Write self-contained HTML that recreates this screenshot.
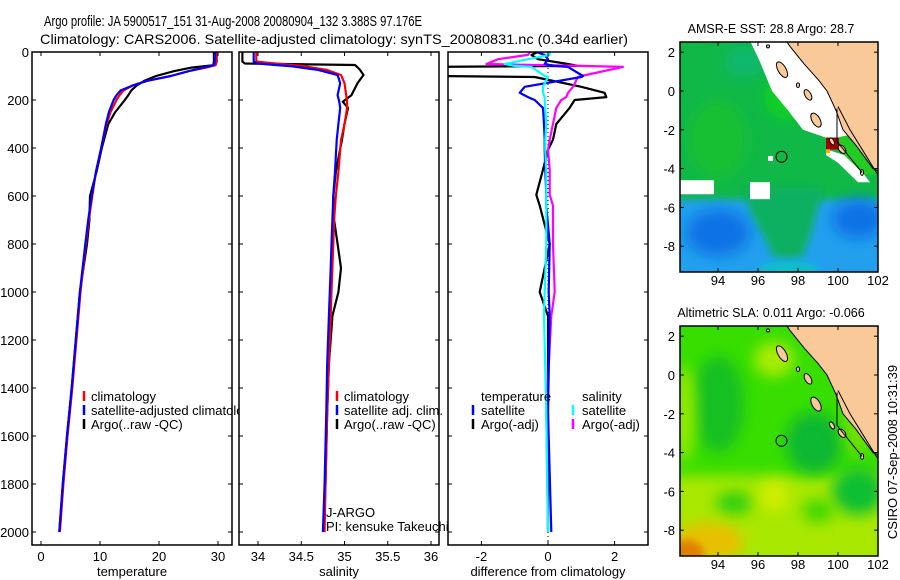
<!DOCTYPE html>
<html><head><meta charset="utf-8">
<style>
html,body{margin:0;padding:0;background:#fff;}
svg{display:block;font-family:"Liberation Sans",sans-serif;}
</style></head>
<body>
<svg id="fig" width="900" height="580" viewBox="0 0 900 580" xmlns="http://www.w3.org/2000/svg">
<defs>
  <filter id="blur6" x="-50%" y="-50%" width="200%" height="200%"><feGaussianBlur stdDeviation="7"/></filter>
  <filter id="blur4" x="-50%" y="-50%" width="200%" height="200%"><feGaussianBlur stdDeviation="4"/></filter>
  <clipPath id="cp1"><rect x="32" y="52" width="200" height="493"/></clipPath>
  <clipPath id="cp2"><rect x="239" y="52" width="200" height="493"/></clipPath>
  <clipPath id="cp3"><rect x="448" y="52" width="200" height="493"/></clipPath>
  <clipPath id="cpm1"><rect x="680" y="42" width="198" height="230"/></clipPath>
  <clipPath id="cpm2"><rect x="680" y="326" width="198" height="230"/></clipPath>
</defs>
<text x="44" y="26" font-size="15" textLength="378" lengthAdjust="spacingAndGlyphs">Argo profile: JA 5900517_151 31-Aug-2008 20080904_132 3.388S 97.176E</text>
<text x="40" y="44" font-size="14" textLength="588" lengthAdjust="spacingAndGlyphs">Climatology: CARS2006. Satellite-adjusted climatology: synTS_20080831.nc (0.34d earlier)</text>
<g id="layer"></g>
<text transform="translate(897,452) rotate(-90)" text-anchor="middle" font-size="13">CSIRO 07-Sep-2008 10:31:39</text>
</svg>
<script>
// ---------- data ----------
const tDepth = [0,40,55,65,80,100,120,140,160,180,200,250,300,400,500,600,700,800,1000,1200,1400,1600,1800,2000];
const tClim  = [29.8,29.8,29.6,28,25,22,18,15.5,14,13.3,12.8,11.8,11.1,10.2,9.3,8.7,8.1,7.6,6.7,6.0,5.3,4.5,3.8,3.2];
const tSat   = [29.5,29.5,29.3,27.5,25,22,18,15.5,13.5,12.8,12.3,11.5,11,10.2,9.3,8.6,8.0,7.5,6.6,5.9,5.2,4.4,3.7,3.1];
const tArgo  = [29.3,29.3,29.2,25.5,22.5,19.5,17.5,16.2,15.3,14.8,14.2,12.6,11.4,10.3,9.4,8.3,8.2,7.8,6.6,5.9,5.2,4.4,3.7,3.1];

const sDepth = [0,40,48,54,60,75,96,130,180,207,233,300,367,500,600,700,800,900,1000,1100,1300,1500,1800,2000];
const sClim  = [33.98,33.98,34.2,34.4,34.55,34.8,34.96,35.0,35.02,35.03,35.03,35.0,34.96,34.93,34.9,34.88,34.87,34.86,34.85,34.84,34.82,34.8,34.78,34.77];
const sSat   = [33.95,33.95,34.0,34.2,34.4,34.7,34.92,34.95,34.92,34.94,34.95,34.93,34.91,34.89,34.87,34.86,34.85,34.84,34.83,34.82,34.8,34.79,34.77,34.75];
const sArgo  = [33.82,33.82,33.85,35.12,35.14,35.18,35.22,35.15,35.08,34.98,35.04,35.0,34.97,34.9,34.87,34.88,34.92,34.96,34.93,34.86,34.82,34.8,34.78,34.76];

const dDepth = [0,12,30,50,58,62,100,104,145,170,188,200,233,300,365,408,490,595,640,800,1000,1100,1500,2000];
const dTempArgo = [-0.3,-0.5,-0.3,0.6,0.9,-3.5,-3.5,-0.4,1.0,1.7,1.75,0.8,0.65,0.25,0.15,0.0,-0.15,-0.35,-0.25,0.05,-0.25,0.0,0.0,0.0];
const dTempSat  = [-0.35,-0.1,0.0,-0.1,0.2,0.6,1.05,1.0,-0.7,-0.85,-0.6,-0.4,-0.15,-0.12,-0.1,-0.1,-0.08,-0.05,-0.05,0.05,0.02,0.05,0.0,0.1];
const dSalSat   = [0.06,0.05,-0.6,-1.3,-1.0,-0.5,-0.1,0.0,-0.15,-0.15,-0.1,-0.1,-0.08,-0.05,-0.08,-0.08,-0.05,-0.05,-0.05,-0.05,-0.1,-0.12,-0.05,0.0];
const dSalArgo  = [-0.55,-0.6,-1.5,-1.85,1.0,2.25,1.0,0.9,0.75,0.6,0.55,0.4,0.25,0.15,0.05,0.0,0.05,0.05,0.15,0.15,0.2,0.1,-0.05,0.0];

const depthTicks = [0,200,400,600,800,1000,1200,1400,1600,1800,2000];
const tempTicks = [0,10,20,30];
const salTicks = [34,34.5,35,35.5,36];
const diffTicks = [-2,0,2];
const lonTicks = [94,96,98,100,102];
const latTicks = [2,0,-2,-4,-6,-8];
const argoLon = 97.176, argoLat = -3.388;

// ---------- helpers ----------
const NS='http://www.w3.org/2000/svg';
const layer=document.getElementById('layer');
function mk(tag,attrs,parent){const e=document.createElementNS(NS,tag);for(const k in attrs)e.setAttribute(k,attrs[k]);(parent||layer).appendChild(e);return e;}
const Yd=d=>52+0.24*d;
const Xt=v=>41+5.9*v;
const Xs=v=>258+86.5*(v-34);
const Xd=v=>548+33.3*v;

function panel(x0,name){
  const g=mk('g',{});
  
  
  mk('rect',{x:x0,y:52,width:200,height:493,fill:'#fff',stroke:'none'},g);
  return g;
}
function frame(g,x0,xTicks,xf,xlabel,xlabelName,yLabels){
  mk('rect',{x:x0,y:52,width:200,height:493,fill:'none',stroke:'#000','stroke-width':1.5},g);
  depthTicks.forEach(d=>{
    const y=Yd(d);
    mk('line',{x1:x0,y1:y,x2:x0+4,y2:y,stroke:'#000'},g);
    mk('line',{x1:x0+200,y1:y,x2:x0+196,y2:y,stroke:'#000'},g);
    if(yLabels){const t=mk('text',{x:x0-3,y:y+5,'text-anchor':'end','font-size':13},g);t.textContent=d;
      
      }
  });
  xTicks.forEach(v=>{
    const x=xf(v);
    mk('line',{x1:x,y1:52,x2:x,y2:56,stroke:'#000'},g);
    mk('line',{x1:x,y1:545,x2:x,y2:541,stroke:'#000'},g);
    const t=mk('text',{x:x,y:561,'text-anchor':'middle','font-size':13},g);t.textContent=v;
    
    
  });
  const t=mk('text',{x:x0+100,y:576,'text-anchor':'middle','font-size':13},g);t.textContent=xlabel;
  
  
}
function series(g,clip,depths,vals,xf,color,name,w){
  const pts=depths.map((d,i)=>xf(vals[i]).toFixed(1)+','+Yd(d).toFixed(1)).join(' ');
  const p=mk('polyline',{points:pts,fill:'none',stroke:color,'stroke-width':w||2.2,'clip-path':'url(#'+clip+')','stroke-linejoin':'round'},g);
  
  
}
function legendItem(g,bx,tx,y,color,label,name){
  if(color) mk('line',{x1:bx,y1:y-10,x2:bx,y2:y,stroke:color,'stroke-width':2.5},g);
  const t=mk('text',{x:tx,y:y,'font-size':13},g);t.textContent=label;
  
  
}

// ---------- panel 1: temperature ----------
const g1=panel(32,'temperature-panel');
series(g1,'cp1',tDepth,tArgo,Xt,'#000','temp-argo-line');
series(g1,'cp1',tDepth,tClim,Xt,'#f00','temp-climatology-line');
series(g1,'cp1',tDepth,tSat,Xt,'#00f','temp-satellite-line');
frame(g1,32,tempTicks,Xt,'temperature','x-axis-title-temperature',true);
legendItem(g1,84,91,401,'#f00','climatology','legend-climatology');
legendItem(g1,84,91,415,'#00f','satellite-adjusted climatology','legend-satellite-adjusted');
legendItem(g1,84,91,429,'#000','Argo(..raw -QC)','legend-argo');

// ---------- panel 2: salinity ----------
const g2=panel(239,'salinity-panel');
series(g2,'cp2',sDepth,sArgo,Xs,'#000','sal-argo-line');
series(g2,'cp2',sDepth,sClim,Xs,'#f00','sal-climatology-line');
series(g2,'cp2',sDepth,sSat,Xs,'#00f','sal-satellite-line');
frame(g2,239,salTicks,Xs,'salinity','x-axis-title-salinity',false);
legendItem(g2,337,344,401,'#f00','climatology','legend-climatology');
legendItem(g2,337,344,415,'#00f','satellite adj. clim.','legend-satellite-adj');
legendItem(g2,337,344,429,'#000','Argo(..raw -QC)','legend-argo');
legendItem(g2,0,326,517,null,'J-ARGO','program-label');
legendItem(g2,0,326,531,null,'PI: kensuke Takeuchi','pi-label');

// ---------- panel 3: differences ----------
const g3=panel(448,'difference-panel');
mk('line',{x1:Xd(0),y1:52,x2:Xd(0),y2:545,stroke:'#000','stroke-dasharray':'1,3'},g3);
series(g3,'cp3',dDepth,dTempArgo,Xd,'#000','diff-temp-argo-line');
series(g3,'cp3',dDepth,dSalArgo,Xd,'#f0f','diff-sal-argo-line');
series(g3,'cp3',dDepth,dTempSat,Xd,'#00f','diff-temp-satellite-line');
series(g3,'cp3',dDepth,dSalSat,Xd,'#0ff','diff-sal-satellite-line');
frame(g3,448,diffTicks,Xd,'difference from climatology','x-axis-title-difference',false);
legendItem(g3,0,481,401,null,'temperature','legend-temperature-header');
legendItem(g3,0,582,401,null,'salinity','legend-salinity-header');
legendItem(g3,473,481,415,'#00f','satellite','legend-temp-satellite');
legendItem(g3,573,582,415,'#0ff','satellite','legend-sal-satellite');
legendItem(g3,473,481,429,'#000','Argo(-adj)','legend-temp-argo');
legendItem(g3,573,582,429,'#f0f','Argo(-adj)','legend-sal-argo');

// ---------- maps ----------
const mX=lon=>680+(lon-92.1)*20;
function mapFrame(g,top,base,title,tname){
  const mY=lat=>base-lat*19.4;
  mk('rect',{x:680,y:top,width:198,height:230,fill:'none',stroke:'#000','stroke-width':1.5},g);
  lonTicks.forEach(l=>{const x=mX(l);
    mk('line',{x1:x,y1:top,x2:x,y2:top+4,stroke:'#000'},g);
    mk('line',{x1:x,y1:top+230,x2:x,y2:top+226,stroke:'#000'},g);
    const t=mk('text',{x:x,y:top+243,'text-anchor':'middle','font-size':13},g);t.textContent=l;
    
    });
  latTicks.forEach(l=>{const y=mY(l);
    mk('line',{x1:680,y1:y,x2:684,y2:y,stroke:'#000'},g);
    mk('line',{x1:878,y1:y,x2:874,y2:y,stroke:'#000'},g);
    const t=mk('text',{x:675,y:y+5,'text-anchor':'end','font-size':13},g);t.textContent=l;
    
    });
  const t=mk('text',{x:771,y:top-9,'text-anchor':'middle','font-size':12.5},g);t.textContent=title;
  
  
}
function poly(g,pts,mY,attrs){
  return mk('polygon',Object.assign({points:pts.map(p=>mX(p[0]).toFixed(1)+','+mY(p[1]).toFixed(1)).join(' ')},attrs),g);
}
function blob(g,lon,lat,rx,ry,color,mY,f){
  mk('ellipse',{cx:mX(lon),cy:mY(lat),rx:rx*20,ry:ry*19.4,fill:color,filter:'url(#'+(f||'blur6')+')'},g);
}
const sumatra=[[97.4,2.6],[97.6,2.3],[98.3,1.4],[99.0,0.6],[99.45,0],[99.9,-1],[100.25,-2],[100.9,-2.8],[101.75,-4],[102.4,-4.3],[102.4,2.6]];
function islands(g,mY){
  const isl=[[97.2,1.1,0.2,0.45,-30],[98.5,-0.2,0.15,0.3,-30],[98.9,-1.5,0.2,0.4,-30],[99.7,-2.6,0.1,0.2,-30],[100.2,-3.0,0.15,0.25,-40],[96.5,2.3,0.08,0.08,0],[101.2,-4.2,0.08,0.15,0],[98.0,0.3,0.08,0.12,0]];
  isl.forEach(a=>{const e=mk('ellipse',{cx:mX(a[0]),cy:mY(a[1]),rx:a[2]*20,ry:a[3]*19.4,fill:'#f9c99a',stroke:'#000','stroke-width':1,transform:'rotate('+a[4]+' '+mX(a[0])+' '+mY(a[1])+')'},g);
    
    });
  mk('polyline',{points:[[99.95,-0.9],[99.95,-2.6],[100.5,-3.3],[101.2,-4.2]].map(p=>mX(p[0])+','+mY(p[1])).join(' '),fill:'none',stroke:'#000','stroke-width':1},g);
  mk('polyline',{points:[[100,-0.8],[100.6,-2.0],[101.2,-3.0],[102.1,-4.5]].map(p=>mX(p[0])+','+mY(p[1])).join(' '),fill:'none',stroke:'#000','stroke-width':1},g);
}

// map 1 SST
const gm1=mk('g',{});


(function(){
  const mY=lat=>91-lat*19.4;
  const c=mk('g',{'clip-path':'url(#cpm1)'},gm1);
  mk('rect',{x:680,y:42,width:198,height:230,fill:'#10b848'},c);
  // blue southern region
  mk('rect',{x:670,y:mY(-5.6),width:220,height:120,fill:'#22a0ee',filter:'url(#blur4)'},c);
  blob(c,94,-7.3,1.6,1.2,'#0a72e6',mY);
  blob(c,101,-6.6,1.3,1.0,'#0a72e6',mY);
  // green tongue
  poly(c,[[95.3,-5.0],[99.3,-5.0],[99.0,-6],[98.6,-7.5],[98.2,-8.6],[96.8,-8.6],[96.3,-7.5],[95.6,-6.2]],mY,{fill:'#10b060',filter:'url(#blur4)'});
  blob(c,97.5,-9.2,1.5,0.4,'#10c0c8',mY,'blur4');
  blob(c,97.5,-0.3,1.2,1.2,'#10d020',mY);
  blob(c,94,-2.5,1.5,2,'#18c030',mY);
  blob(c,95.3,1.5,1.0,0.8,'#10b870',mY);
  const w=poly(c,[[95.6,2.6],[96.1,1.5],[96.7,0],[97.5,-1],[98.25,-2],[99.4,-2.4],[100,-2.4],[100.4,-2.3],[102.4,-2.3],[102.4,2.6]],mY,{fill:'#fff'});
  
  
  poly(c,[[100,-2.4],[100.4,-2.3],[101.5,-3.5],[102.4,-3.6],[102.4,-4.3],[101.3,-4.3],[100.3,-3.3],[100,-3]],mY,{fill:'#22cc22'});
  poly(c,[[99.4,-3],[100.3,-3.3],[101.3,-4.3],[101.6,-4.7],[101.0,-4.7],[100,-3.7],[99.4,-3.3]],mY,{fill:'#fff'});
  mk('rect',{x:680,y:mY(-4.6),width:mX(93.8)-680,height:14,fill:'#fff'},c);
  mk('rect',{x:mX(95.6),y:mY(-4.7),width:20,height:17,fill:'#fff'},c);
  mk('rect',{x:mX(96.5),y:mY(-3.35),width:5,height:5,fill:'#fff'},c);
  mk('rect',{x:mX(99.4),y:mY(-2.4),width:13,height:12,fill:'#a00000'},c);
  mk('rect',{x:mX(99.4),y:mY(-3.0),width:4,height:4,fill:'#f0b000'},c);
  const land=poly(c,sumatra,mY,{fill:'#f9c99a',stroke:'#000','stroke-width':1});
  
  
  islands(c,mY);
  const m=mk('circle',{cx:mX(argoLon),cy:mY(argoLat),r:5.5,fill:'none',stroke:'#000','stroke-width':1},gm1);
  
  
  mapFrame(gm1,42,91,'AMSR-E SST: 28.8 Argo: 28.7','sst-map-title');
})();

// map 2 SLA
const gm2=mk('g',{});


(function(){
  const mY=lat=>375-lat*19.4;
  const c=mk('g',{'clip-path':'url(#cpm2)'},gm2);
  mk('rect',{x:680,y:326,width:198,height:230,fill:'#38de00'},c);
  mk('rect',{x:670,y:mY(-5.2),width:220,height:120,fill:'#a8e800',filter:'url(#blur6)'},c);
  blob(c,94,-1.5,1.3,2.5,'#18c020',mY);
  blob(c,98.8,-3.5,1.4,1.6,'#10b830',mY);
  blob(c,101,-6,1.3,1.2,'#10c030',mY);
  blob(c,94.8,-6.6,0.9,0.6,'#30d010',mY);
  blob(c,99,-7.0,0.8,0.6,'#40d800',mY);
  blob(c,92.3,-2,0.6,2.5,'#90e800',mY);
  blob(c,96.8,0.8,1.0,0.9,'#a8ec00',mY);
  blob(c,96.8,-6.2,0.7,0.8,'#d0ee00',mY);
  blob(c,93.5,-8.6,1.8,1.0,'#e8c000',mY);
  blob(c,92.4,-9.2,0.9,0.7,'#e08000',mY,'blur4');
  blob(c,101,-2.5,0.7,1.6,'#70e000',mY);
  const land=poly(c,sumatra,mY,{fill:'#f9c99a',stroke:'#000','stroke-width':1});
  
  
  islands(c,mY);
  const m=mk('circle',{cx:mX(argoLon),cy:mY(argoLat),r:5.5,fill:'none',stroke:'#000','stroke-width':1},gm2);
  
  
  mapFrame(gm2,326,375,'Altimetric SLA: 0.011  Argo: -0.066','sla-map-title');
})();
</script>
</body></html>
